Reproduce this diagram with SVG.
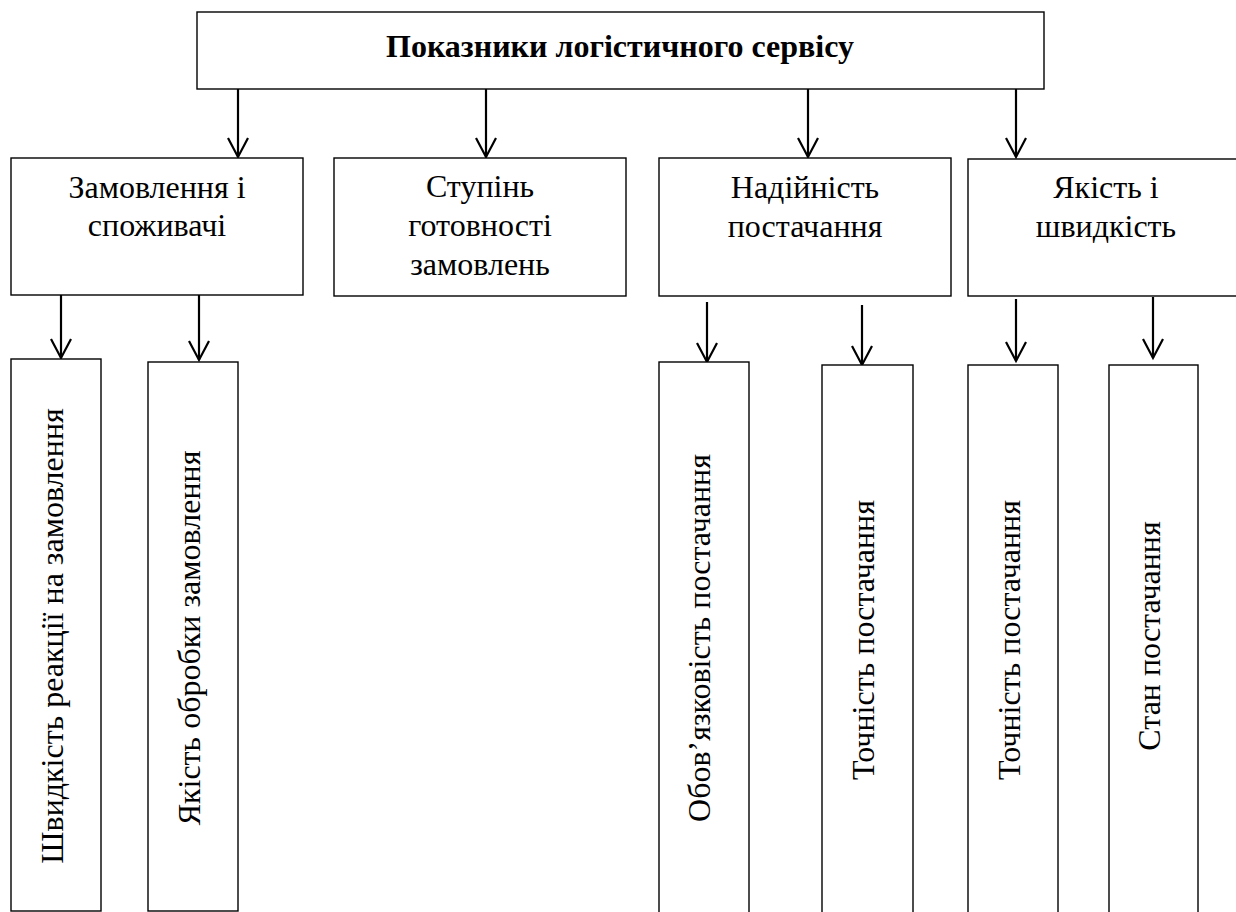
<svg xmlns="http://www.w3.org/2000/svg" width="1236" height="912" viewBox="0 0 1236 912">
<style>
.box{fill:#fff;stroke:#000;stroke-width:1.4}
.t{font-family:"Liberation Serif","Times New Roman",serif;font-size:32px;fill:#000;text-anchor:middle}
.b{font-weight:bold}
.c line{stroke:#000;stroke-width:2.2;marker-end:url(#ah)}
</style>
<defs>
<marker id="ah" viewBox="-21 -12 24 24" refX="0" refY="0" markerWidth="24" markerHeight="24" markerUnits="userSpaceOnUse" orient="auto">
<path d="M-19,-10 L0,0 L-19,10" fill="none" stroke="#000" stroke-width="2.2"/>
</marker>
</defs>
<rect width="1236" height="912" fill="#fff"/>
<g id="connectors" class="c">
<line x1="238" y1="89" x2="238" y2="157"/>
<line x1="486" y1="89" x2="486" y2="157"/>
<line x1="808" y1="89" x2="808" y2="157"/>
<line x1="1016" y1="89" x2="1016" y2="157"/>
<line x1="61" y1="295" x2="61" y2="358"/>
<line x1="199" y1="295" x2="199" y2="360"/>
<line x1="707" y1="302" x2="707" y2="362"/>
<line x1="862" y1="305" x2="862" y2="365"/>
<line x1="1016" y1="299" x2="1016" y2="361"/>
<line x1="1153" y1="297" x2="1153" y2="358"/>
</g>
<g id="root"><rect class="box" x="197" y="12" width="847" height="77"/><text class="t b" x="620" y="57">Показники логістичного сервісу</text></g>
<g id="n1"><rect class="box" x="11" y="158" width="292" height="137"/><text class="t" x="157" y="198">Замовлення і</text><text class="t" x="157" y="236">споживачі</text></g>
<g id="n2"><rect class="box" x="334" y="158" width="292" height="138"/><text class="t" x="480" y="197">Ступінь</text><text class="t" x="480" y="236">готовності</text><text class="t" x="480" y="275">замовлень</text></g>
<g id="n3"><rect class="box" x="659" y="158" width="292" height="138"/><text class="t" x="805" y="198">Надійність</text><text class="t" x="805" y="237">постачання</text></g>
<g id="n4"><rect class="box" x="968" y="159" width="280" height="137"/><text class="t" x="1106" y="198">Якість і</text><text class="t" x="1106" y="237">швидкість</text></g>
<g id="m1"><rect class="box" x="11" y="359" width="90" height="552"/><text class="t" transform="translate(63,636) rotate(-90)">Швидкість реакції на замовлення</text></g>
<g id="m2"><rect class="box" x="148" y="362" width="90" height="549"/><text class="t" transform="translate(200,638) rotate(-90)">Якість обробки замовлення</text></g>
<g id="m3"><rect class="box" x="659" y="362" width="90" height="560"/><text class="t" transform="translate(710,638) rotate(-90)">Обов’язковість постачання</text></g>
<g id="m4"><rect class="box" x="822" y="365" width="91" height="557"/><text class="t" transform="translate(874,640) rotate(-90)">Точність постачання</text></g>
<g id="m5"><rect class="box" x="968" y="365" width="90" height="557"/><text class="t" transform="translate(1020,640) rotate(-90)">Точність постачання</text></g>
<g id="m6"><rect class="box" x="1109" y="365" width="89" height="557"/><text class="t" transform="translate(1160,636) rotate(-90)">Стан постачання</text></g>
</svg>
